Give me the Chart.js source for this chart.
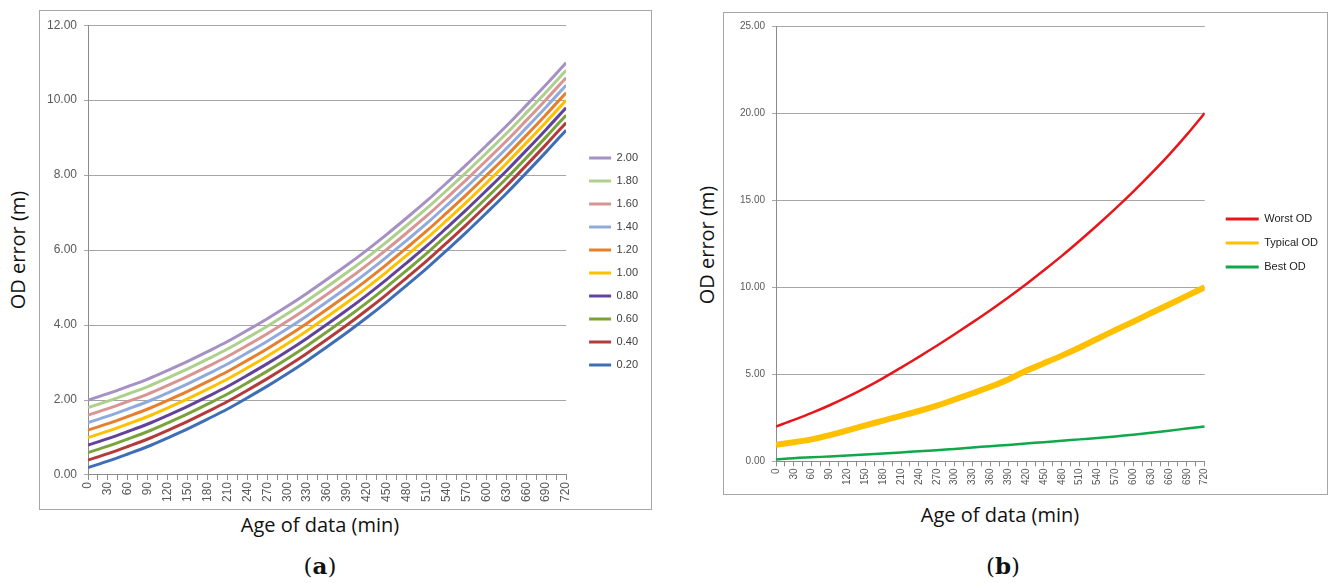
<!DOCTYPE html>
<html>
<head>
<meta charset="utf-8">
<script src="https://cdn.jsdelivr.net/npm/chart.js@4.4.1/dist/chart.umd.min.js"></script>
<style>
  body { margin: 0; background: #fff; width: 1330px; height: 583px; position: relative; overflow: hidden; }
  .box { position: absolute; border: 1px solid #a6a6a6; }
  .txt { position: absolute; text-align: center; color: #111; font-family: 'Open Sans', sans-serif; font-size: 20px; white-space: nowrap; height: 28px; line-height: 28px; }
  .ytitle { width: 200px; transform: rotate(-90deg); }
  .cap { font-family: 'DejaVu Serif', serif; font-size: 23px; width: 60px; }
</style>
</head>
<body>
<div class="box" style="left:39px;top:10px;width:611px;height:498px"><canvas id="chartA"></canvas></div>
<div class="box" style="left:723px;top:12px;width:603px;height:481px"><canvas id="chartB"></canvas></div>

<div class="txt ytitle" style="left:-82px;top:236px">OD error (m)</div>
<div class="txt ytitle" style="left:607px;top:231px">OD error (m)</div>
<div class="txt" style="left:220px;top:511px;width:200px">Age of data (min)</div>
<div class="txt" style="left:900px;top:501px;width:200px">Age of data (min)</div>
<div class="txt cap" style="left:290px;top:552px">(<b>a</b>)</div>
<div class="txt cap" style="left:973px;top:552px">(<b>b</b>)</div>

<script>
// minutes since last update (one point every 30 min)
const minutes = [0, 30, 60, 90, 120, 150, 180, 210, 240, 270, 300, 330, 360, 390, 420, 450, 480, 510, 540, 570, 600, 630, 660, 690, 720];

// chart (a): OD error for each initial error level
const labelsA = ['2.00', '1.80', '1.60', '1.40', '1.20', '1.00', '0.80', '0.60', '0.40', '0.20'];
const coloursA = ['#a591c4', '#add08c', '#d99593', '#8eabdc', '#e7802d', '#ffc000', '#61449a', '#7aa33d', '#b33b3b', '#3e6fb6'];
const s200 = [2.00, 2.17, 2.36, 2.56, 2.79, 3.03, 3.29, 3.56, 3.86, 4.17, 4.50, 4.85, 5.22, 5.60, 6.00, 6.42, 6.86, 7.31, 7.79, 8.28, 8.79, 9.31, 9.86, 10.42, 11.00];
const s180 = [1.80, 1.97, 2.16, 2.36, 2.59, 2.83, 3.09, 3.36, 3.66, 3.97, 4.30, 4.65, 5.02, 5.40, 5.80, 6.22, 6.66, 7.11, 7.59, 8.08, 8.59, 9.11, 9.66, 10.22, 10.80];
const s160 = [1.60, 1.77, 1.96, 2.16, 2.39, 2.63, 2.89, 3.16, 3.46, 3.77, 4.10, 4.45, 4.82, 5.20, 5.60, 6.02, 6.46, 6.91, 7.39, 7.88, 8.39, 8.91, 9.46, 10.02, 10.60];
const s140 = [1.40, 1.57, 1.76, 1.96, 2.19, 2.43, 2.69, 2.96, 3.26, 3.57, 3.90, 4.25, 4.62, 5.00, 5.40, 5.82, 6.26, 6.71, 7.19, 7.68, 8.19, 8.71, 9.26, 9.82, 10.40];
const s120 = [1.20, 1.37, 1.56, 1.76, 1.99, 2.23, 2.49, 2.76, 3.06, 3.37, 3.70, 4.05, 4.42, 4.80, 5.20, 5.62, 6.06, 6.51, 6.99, 7.48, 7.99, 8.51, 9.06, 9.62, 10.20];
const s100 = [1.00, 1.17, 1.36, 1.56, 1.79, 2.03, 2.29, 2.56, 2.86, 3.17, 3.50, 3.85, 4.22, 4.60, 5.00, 5.42, 5.86, 6.31, 6.79, 7.28, 7.79, 8.31, 8.86, 9.42, 10.00];
const s080 = [0.80, 0.97, 1.16, 1.36, 1.59, 1.83, 2.09, 2.36, 2.66, 2.97, 3.30, 3.65, 4.02, 4.40, 4.80, 5.22, 5.66, 6.11, 6.59, 7.08, 7.59, 8.11, 8.66, 9.22, 9.80];
const s060 = [0.60, 0.77, 0.96, 1.16, 1.39, 1.63, 1.89, 2.16, 2.46, 2.77, 3.10, 3.45, 3.82, 4.20, 4.60, 5.02, 5.46, 5.91, 6.39, 6.88, 7.39, 7.91, 8.46, 9.02, 9.60];
const s040 = [0.40, 0.57, 0.76, 0.96, 1.19, 1.43, 1.69, 1.96, 2.26, 2.57, 2.90, 3.25, 3.62, 4.00, 4.40, 4.82, 5.26, 5.71, 6.19, 6.68, 7.19, 7.71, 8.26, 8.82, 9.40];
const s020 = [0.20, 0.37, 0.56, 0.76, 0.99, 1.23, 1.49, 1.76, 2.06, 2.37, 2.70, 3.05, 3.42, 3.80, 4.20, 4.62, 5.06, 5.51, 5.99, 6.48, 6.99, 7.51, 8.06, 8.62, 9.20];
const seriesA = [s200, s180, s160, s140, s120, s100, s080, s060, s040, s020];

// chart (b): worst / typical / best orbit determination
const labelsB = ['Worst OD', 'Typical OD', 'Best OD'];
const coloursB = ['#e8161b', '#ffc000', '#10a84a'];
const widthsB = [2.5, 6, 2.5];
const worstOD = [2.00, 2.38, 2.78, 3.22, 3.70, 4.22, 4.78, 5.38, 6.00, 6.64, 7.30, 7.98, 8.68, 9.41, 10.17, 10.97, 11.80, 12.67, 13.57, 14.51, 15.49, 16.52, 17.60, 18.76, 20.00];
const typicalOD = [0.95, 1.10, 1.26, 1.50, 1.78, 2.06, 2.34, 2.61, 2.89, 3.20, 3.55, 3.91, 4.28, 4.70, 5.20, 5.63, 6.07, 6.54, 7.04, 7.54, 8.02, 8.52, 9.01, 9.50, 10.00];
const bestOD = [0.10, 0.18, 0.23, 0.28, 0.33, 0.39, 0.45, 0.51, 0.58, 0.64, 0.71, 0.79, 0.87, 0.94, 1.02, 1.10, 1.18, 1.26, 1.34, 1.43, 1.53, 1.64, 1.76, 1.88, 2.00];
const seriesB = [worstOD, typicalOD, bestOD];

const toPoints = vals => vals.map((v, i) => ({ x: minutes[i], y: v }));

// legend entries drawn as flat lines
function lineLegend(chart) {
    return Chart.defaults.plugins.legend.labels.generateLabels(chart)
        .map(item => Object.assign(item, { lineWidth: 0, fillStyle: item.strokeStyle }));
}

// move the legend a little, like Excel places it
const legendShift = {
    id: 'legendShift',
    afterLayout(chart, args, opts) {
        const lg = chart.legend;
        if (!lg) return;
        lg.left += opts.dx || 0;
        lg.right += opts.dx || 0;
        lg.top += opts.dy || 0;
        lg.bottom += opts.dy || 0;
    }
};

function axes(yMax, yStep, fontSize) {
    const tickFont = { family: "'Liberation Sans', Arial, sans-serif", size: fontSize };
    return {
        x: {
            type: 'linear', min: 0, max: 720,
            grid: { drawOnChartArea: false, drawTicks: true, tickLength: 5, color: '#8c8c8c' },
            border: { color: '#8c8c8c' },
            ticks: {
                stepSize: 15, autoSkip: false, minRotation: 90, maxRotation: 90,
                padding: 2, color: '#595959', font: tickFont,
                callback: v => (v % 30 === 0 ? String(v) : '')
            }
        },
        y: {
            min: 0, max: yMax,
            grid: { color: '#a6a6a6', tickLength: 4 },
            border: { color: '#8c8c8c' },
            ticks: { stepSize: yStep, padding: 7, color: '#595959', font: tickFont, callback: v => v.toFixed(2) }
        }
    };
}

new Chart(document.getElementById('chartA'), {
    type: 'line',
    data: {
        datasets: seriesA.map((vals, i) => ({
            label: labelsA[i],
            data: toPoints(vals),
            borderColor: coloursA[i],
            backgroundColor: coloursA[i],
            borderWidth: 3,
            pointRadius: 0,
            tension: 0.35
        }))
    },
    options: {
        responsive: true,
        maintainAspectRatio: false,
        animation: false,
        layout: { padding: { left: 0, top: 8, right: 14, bottom: 5 } },
        scales: axes(12, 2, 12),
        plugins: {
            legendShift: { dx: 11, dy: 0 },
            tooltip: { enabled: false },
            legend: {
                position: 'right',
                labels: {
                    boxWidth: 22, boxHeight: 3, padding: 12, color: '#404040',
                    font: { family: "'Liberation Sans', Arial, sans-serif", size: 11 },
                    generateLabels: lineLegend
                }
            }
        }
    },
    plugins: [legendShift]
});

new Chart(document.getElementById('chartB'), {
    type: 'line',
    data: {
        datasets: seriesB.map((vals, i) => ({
            label: labelsB[i],
            data: toPoints(vals),
            borderColor: coloursB[i],
            backgroundColor: coloursB[i],
            borderWidth: widthsB[i],
            pointRadius: 0,
            tension: 0.35
        }))
    },
    options: {
        responsive: true,
        maintainAspectRatio: false,
        animation: false,
        layout: { padding: { left: 9, top: 6, right: 7, bottom: 7 } },
        scales: axes(25, 5, 10),
        plugins: {
            legendShift: { dx: 8, dy: -10 },
            tooltip: { enabled: false },
            legend: {
                position: 'right',
                labels: {
                    boxWidth: 33, boxHeight: 3, padding: 13, color: '#222',
                    font: { family: "'Liberation Sans', Arial, sans-serif", size: 11 },
                    generateLabels: lineLegend
                }
            }
        }
    },
    plugins: [legendShift]
});
</script>
</body>
</html>
